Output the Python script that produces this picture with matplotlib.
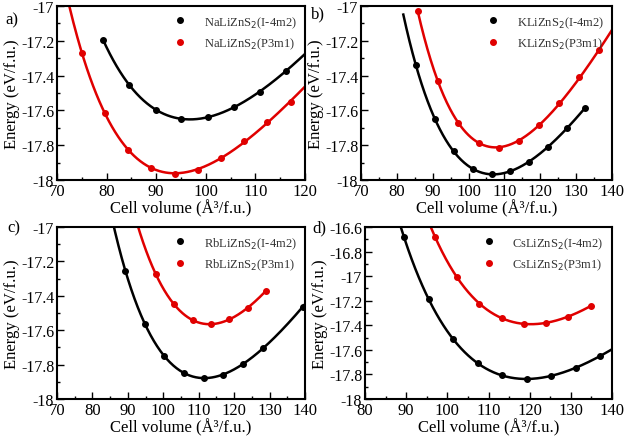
import numpy as np
import matplotlib.pyplot as plt
from matplotlib.ticker import MultipleLocator, FuncFormatter

plt.rcParams['font.family'] = ['Liberation Serif', 'DejaVu Serif']
plt.rcParams['axes.unicode_minus'] = False

# panel a) NaLiZnS2
na_v_i4m2 = [79.3, 84.6, 89.9, 95.1, 100.4, 105.7, 110.9, 116.2]
na_e_i4m2 = [-17.195, -17.455, -17.595, -17.648, -17.640, -17.580, -17.492, -17.372]
na_v_p3m1 = [75.0, 79.7, 84.4, 89.0, 93.7, 98.4, 103.1, 107.8, 112.4, 117.1]
na_e_p3m1 = [-17.270, -17.615, -17.825, -17.932, -17.965, -17.940, -17.875, -17.775, -17.665, -17.552]

# panel b) KLiZnS2
k_v_i4m2 = [85.3, 90.6, 95.9, 101.1, 106.4, 111.6, 116.9, 122.1, 127.4, 132.6]
k_e_i4m2 = [-17.340, -17.648, -17.835, -17.937, -17.967, -17.950, -17.894, -17.810, -17.700, -17.585]
k_v_p3m1 = [85.8, 91.5, 97.1, 102.8, 108.4, 114.0, 119.6, 125.3, 130.9, 136.5]
k_e_p3m1 = [-17.030, -17.430, -17.670, -17.788, -17.815, -17.773, -17.685, -17.560, -17.410, -17.252]

# panel c) RbLiZnS2
rb_v_i4m2 = [89.3, 94.8, 100.3, 105.8, 111.4, 116.9, 122.5, 128.1, 139.3]
rb_e_i4m2 = [-17.255, -17.562, -17.750, -17.850, -17.878, -17.858, -17.796, -17.705, -17.466]
rb_v_p3m1 = [97.9, 103.1, 108.3, 113.5, 118.6, 123.8, 128.9]
rb_e_p3m1 = [-17.275, -17.450, -17.543, -17.565, -17.535, -17.472, -17.372]

# panel d) CsLiZnS2
cs_v_i4m2 = [89.5, 95.5, 101.4, 107.4, 113.4, 119.4, 125.3, 131.3, 137.2]
cs_e_i4m2 = [-16.685, -17.188, -17.515, -17.708, -17.808, -17.838, -17.810, -17.745, -17.648]
cs_v_p3m1 = [97.0, 102.4, 107.8, 113.2, 118.6, 124.0, 129.4, 134.8]
cs_e_p3m1 = [-16.680, -17.010, -17.225, -17.342, -17.388, -17.378, -17.330, -17.243]

names = ['NaLiZnS$_2$', 'KLiZnS$_2$', 'RbLiZnS$_2$', 'CsLiZnS$_2$']
panel_tags = ['a)', 'b)', 'c)', 'd)']
series = [
    (na_v_i4m2, na_e_i4m2, na_v_p3m1, na_e_p3m1),
    (k_v_i4m2, k_e_i4m2, k_v_p3m1, k_e_p3m1),
    (rb_v_i4m2, rb_e_i4m2, rb_v_p3m1, rb_e_p3m1),
    (cs_v_i4m2, cs_e_i4m2, cs_v_p3m1, cs_e_p3m1),
]
# volume span drawn by each fitted curve (I-4m2, P3m1)
fit_spans = [
    ((79.3, 120.0), (72.5, 120.0)),
    ((81.8, 132.6), (85.8, 140.0)),
    ((85.5, 140.0), (92.5, 128.9)),
    ((88.8, 140.0), (96.0, 134.8)),
]
xlims = [(70, 120), (70, 140), (70, 140), (80, 140)]
ylims = [(-18, -17), (-18, -17), (-18, -17), (-18, -16.6)]

# axes boxes in figure fractions [left, bottom, width, height]
boxes = [
    [0.0912, 0.5876, 0.3968, 0.3964],
    [0.5776, 0.5876, 0.4016, 0.3964],
    [0.0912, 0.0888, 0.3968, 0.3918],
    [0.5840, 0.0888, 0.3952, 0.3918],
]
tag_pos = [(0.008, 0.945), (0.497, 0.958), (0.012, 0.470), (0.500, 0.470)]


def birch_fit(v, e, span):
    # third-order Birch-Murnaghan: E is cubic in V^(-2/3)
    x = np.asarray(v) ** (-2.0 / 3.0)
    coef = np.polyfit(x, e, 3)
    vv = np.linspace(span[0], span[1], 300)
    return vv, np.polyval(coef, vv ** (-2.0 / 3.0))


fig = plt.figure(figsize=(6.25, 4.39), dpi=100)
fmt = FuncFormatter(lambda val, pos: '%g' % round(val, 2))

for i in range(4):
    ax = fig.add_axes(boxes[i])
    v1, e1, v2, e2 = series[i]
    span1, span2 = fit_spans[i]

    xf, yf = birch_fit(v1, e1, span1)
    ax.plot(xf, yf, color='black', lw=1.8, zorder=2)
    xf, yf = birch_fit(v2, e2, span2)
    ax.plot(xf, yf, color='#e00000', lw=1.8, zorder=2)

    ax.plot(v1, e1, 'o', color='black', ms=4, zorder=3,
            label=names[i] + '(I-4m2)')
    ax.plot(v2, e2, 'o', color='#e00000', ms=4, zorder=3,
            label=names[i] + '(P3m1)')

    ax.set_xlim(xlims[i])
    ax.set_ylim(ylims[i])
    ax.xaxis.set_major_locator(MultipleLocator(10))
    ax.xaxis.set_minor_locator(MultipleLocator(5))
    ax.yaxis.set_major_locator(MultipleLocator(0.2))
    ax.yaxis.set_minor_locator(MultipleLocator(0.1))
    ax.xaxis.set_major_formatter(fmt)
    ax.yaxis.set_major_formatter(fmt)
    ax.tick_params(which='both', direction='in', top=False, right=False,
                   width=1.0)
    ax.tick_params(axis='x', labelsize=12)
    ax.tick_params(axis='y', labelsize=11.5)
    ax.tick_params(which='major', length=5, pad=2)
    ax.tick_params(which='minor', length=2.5)
    for sp in ax.spines.values():
        sp.set_linewidth(1.5)

    ax.set_xlabel('Cell volume (Å³/f.u.)', fontsize=12, labelpad=0)
    ax.set_ylabel('Energy (eV/f.u.)', fontsize=12, labelpad=1)

    leg = ax.legend(loc='upper right', frameon=False, fontsize=9,
                    handletextpad=0.9, labelspacing=0.45, markerscale=1.0,
                    borderaxespad=0.25)
    for t in leg.get_texts():
        t.set_color('#333333')

    fig.text(tag_pos[i][0], tag_pos[i][1], panel_tags[i], fontsize=12)

fig.savefig('out.png', dpi=100)
